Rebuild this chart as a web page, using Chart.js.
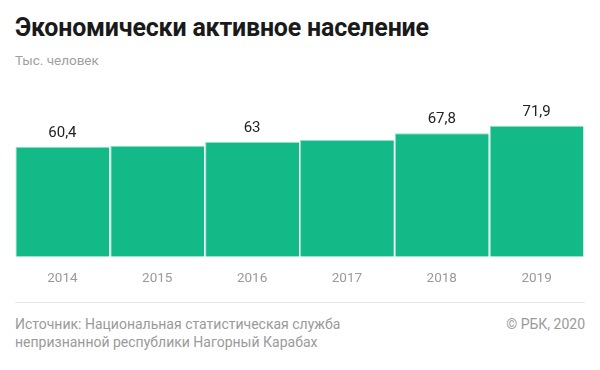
<!DOCTYPE html>
<html>
<head>
<meta charset="utf-8">
<script src="https://cdn.jsdelivr.net/npm/chart.js@4"></script>
<style>
  body { margin: 0; background: #fff; font-family: Roboto, sans-serif; }
  #wrap { position: relative; width: 600px; height: 370px; overflow: hidden; }
  .title { position: absolute; left: 15px; top: 13px; font-size: 25px; font-weight: 700; color: #1a1a1a; letter-spacing: -0.2px; }
  .sub { position: absolute; left: 15px; top: 52px; font-size: 13.5px; color: #a0a0a0; }
  .line { position: absolute; left: 15px; top: 302px; width: 570px; height: 1px; background: #e6e6e6; }
  .src { position: absolute; left: 15px; top: 316px; font-size: 14px; line-height: 17.5px; color: #9a9a9a; }
  .copy { position: absolute; right: 15px; top: 316px; font-size: 14px; line-height: 17.5px; color: #9a9a9a; }
  #box { position: absolute; left: 0; top: 102px; width: 600px; height: 199px; }
</style>
</head>
<body>
<div id="wrap">
  <div class="title">Экономически активное население</div>
  <div class="sub">Тыс. человек</div>
  <div id="box"><canvas id="chart"></canvas></div>
  <div class="line"></div>
  <div class="src">Источник: Национальная статистическая служба<br>непризнанной республики Нагорный Карабах</div>
  <div class="copy">© РБК, 2020</div>
</div>
<script>
const years = ['2014', '2015', '2016', '2017', '2018', '2019']
const population = [60.4, 61.0, 63, 64.1, 67.8, 71.9]
const valueLabels = ['60,4', '', '63', '', '67,8', '71,9']
const yMax = 85

// labels above the bars, only where the original shows them
const valueLabelPlugin = {
  id: 'valueLabels',
  afterDatasetsDraw(chart) {
    const ctx = chart.ctx
    const meta = chart.getDatasetMeta(0)
    ctx.save()
    ctx.font = '15px Roboto, sans-serif'
    ctx.fillStyle = '#222'
    ctx.textAlign = 'center'
    ctx.textBaseline = 'middle'
    meta.data.forEach((bar, i) => {
      if (valueLabels[i]) ctx.fillText(valueLabels[i], bar.x, bar.y - 14)
    })
    ctx.restore()
  }
}

const ctx = document.getElementById('chart').getContext('2d')
new Chart(ctx, {
  type: 'bar',
  data: {
    labels: years,
    datasets: [{
      data: population,
      backgroundColor: '#13ba88',
      borderColor: '#8fe3c6',
      borderWidth: { top: 1, left: 1, right: 0, bottom: 0 },
      borderSkipped: false,
      barPercentage: 0.99,
      categoryPercentage: 1
    }]
  },
  options: {
    responsive: true,
    maintainAspectRatio: false,
    animation: false,
    layout: { padding: { left: 15, right: 16, top: 0, bottom: 0 } },
    plugins: { legend: { display: false }, tooltip: { enabled: false } },
    scales: {
      x: {
        grid: { display: false, drawTicks: false },
        border: { display: false },
        ticks: { color: '#9a9a9a', font: { family: 'Roboto', size: 13.5 }, padding: 14 }
      },
      y: { display: false, min: 0, max: yMax }
    }
  },
  plugins: [valueLabelPlugin]
})
</script>
</body>
</html>
